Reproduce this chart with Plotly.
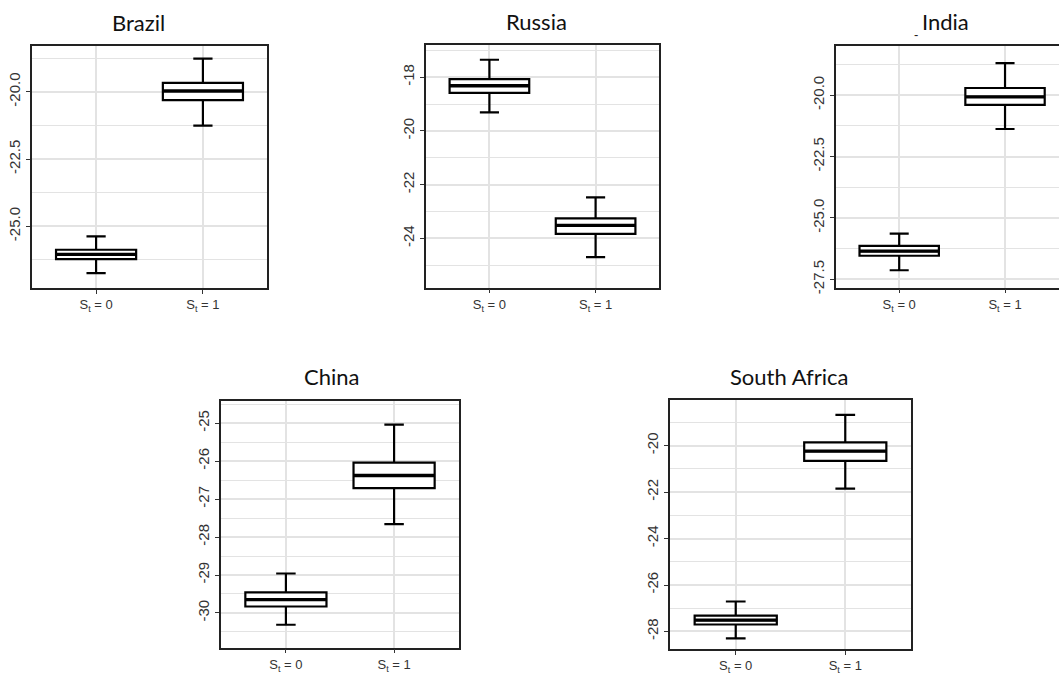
import plotly.graph_objects as go

# Panels and regime categories
countries = ["Brazil", "Russia", "India", "China", "South Africa"]
state_labels = ["S<sub>t</sub> = 0", "S<sub>t</sub> = 1"]
state_pos = [0, 1]

# Box statistics per country: [S_t = 0, S_t = 1]
lower_whisker = [[-26.74, -21.26], [-19.31, -24.69], [-27.13, -21.38], [-30.31, -27.66], [-28.30, -21.85]]
q1_values     = [[-26.22, -20.31], [-18.58, -23.83], [-26.54, -20.40], [-29.83, -26.71], [-27.70, -20.66]]
median_values = [[-26.04, -19.97], [-18.32, -23.51], [-26.35, -20.07], [-29.65, -26.38], [-27.51, -20.24]]
q3_values     = [[-25.87, -19.67], [-18.07, -23.25], [-26.14, -19.71], [-29.46, -26.04], [-27.32, -19.86]]
upper_whisker = [[-25.37, -18.77], [-17.35, -22.47], [-25.64, -18.70], [-28.96, -25.04], [-26.71, -18.68]]

# Y-axis tick values and labels per country
y_tickvals = [
    [-20.0, -22.5, -25.0],
    [-18, -20, -22, -24],
    [-20.0, -22.5, -25.0, -27.5],
    [-25, -26, -27, -28, -29, -30],
    [-20, -22, -24, -26, -28],
]
y_ticktext = [
    ["-20.0", "-22.5", "-25.0"],
    ["-18", "-20", "-22", "-24"],
    ["-20.0", "-22.5", "-25.0", "-27.5"],
    ["-25", "-26", "-27", "-28", "-29", "-30"],
    ["-20", "-22", "-24", "-26", "-28"],
]
y_minor = [
    [-18.75, -21.25, -23.75, -26.25],
    [-17, -19, -21, -23, -25],
    [-18.75, -21.25, -23.75, -26.25],
    [-24.5, -25.5, -26.5, -27.5, -28.5, -29.5, -30.5],
    [-19, -21, -23, -25, -27],
]

W, H = 1059, 675

# Panel geometry (pixels): x0, x1, y_top, y_bottom
panels = [
    (32, 267, 46, 291),
    (425.7, 659.3, 45.7, 290.7),
    (835.7, 1059, 46, 290.7),
    (221, 459, 405.7, 654.3),
    (670, 911, 404, 655.7),
]
y_ranges = [
    [-27.29, -18.28],
    [-25.83, -16.81],
    [-27.84, -17.98],
    [-30.91, -24.43],
    [-28.75, -18.03],
]
x_ranges = [[-0.6, 1.6], [-0.6, 1.6], [-0.6, 1.51], [-0.6, 1.6], [-0.6, 1.6]]
title_pos = [(138, 23), (536.7, 22), (945, 22), (331.7, 380), (789.3, 380)]

BOX_W = 0.75
GRID = "#e3e3e3"
FRAME = "#222222"
TICKFONT = dict(family="Liberation Sans, Arial, sans-serif", size=15, color="#333333")

fig = go.Figure()
layout = dict(
    width=W, height=H,
    margin=dict(l=0, r=0, t=0, b=0),
    paper_bgcolor="white", plot_bgcolor="white",
    showlegend=False,
    annotations=[],
)

for i, name in enumerate(countries):
    n = i + 1
    xa = "x" if n == 1 else f"x{n}"
    ya = "y" if n == 1 else f"y{n}"
    x0, x1, yt, yb = panels[i]

    fig.add_trace(go.Box(
        x=state_pos,
        q1=q1_values[i], median=median_values[i], q3=q3_values[i],
        lowerfence=lower_whisker[i], upperfence=upper_whisker[i],
        width=BOX_W, whiskerwidth=0.24,
        fillcolor="white",
        line=dict(color="black", width=2.2),
        boxpoints=False, hoverinfo="skip",
        xaxis=xa, yaxis=ya,
    ))
    # thicker median bars
    mx, my = [], []
    for p, m in zip(state_pos, median_values[i]):
        mx += [p - BOX_W / 2, p + BOX_W / 2, None]
        my += [m, m, None]
    fig.add_trace(go.Scatter(
        x=mx, y=my, mode="lines",
        line=dict(color="black", width=3.4),
        hoverinfo="skip", xaxis=xa, yaxis=ya,
    ))

    india = name == "India"
    layout[f"xaxis{'' if n == 1 else n}"] = dict(
        domain=[x0 / W, min(x1 / W, 1.0)],
        anchor=ya,
        range=x_ranges[i],
        tickmode="array", tickvals=state_pos, ticktext=state_labels,
        tickfont=dict(family="Liberation Sans, Arial, sans-serif", size=13, color="#333333"),
        ticks="outside", ticklen=4, tickcolor="#333333", tickwidth=1.3,
        showgrid=True, gridcolor=GRID, gridwidth=1.5,
        showline=True, linecolor=FRAME, linewidth=1.6, mirror=True,
        zeroline=False, fixedrange=True,
    )
    layout[f"yaxis{'' if n == 1 else n}"] = dict(
        domain=[1 - yb / H, 1 - yt / H],
        anchor=xa,
        range=y_ranges[i],
        tickmode="array", tickvals=y_tickvals[i], ticktext=y_ticktext[i],
        tickangle=-90,
        tickfont=TICKFONT,
        ticks="outside", ticklen=4, tickcolor="#333333", tickwidth=1.3,
        showgrid=True, gridcolor=GRID, gridwidth=1.5,
        minor=dict(tickvals=y_minor[i], showgrid=True, gridcolor=GRID, gridwidth=1.2, ticklen=0),
        showline=True, linecolor=FRAME, linewidth=1.6, mirror=(not india),
        zeroline=False, fixedrange=True,
    )

    tx, ty = title_pos[i]
    layout["annotations"].append(dict(
        text=name, xref="paper", yref="paper",
        x=tx / W, y=1 - ty / H, xanchor="center", yanchor="middle",
        showarrow=False,
        font=dict(family="Lato, Open Sans, sans-serif", size=22, color="#111111"),
    ))

# small mark beside the India heading
layout["annotations"].append(dict(
    text="-", xref="paper", yref="paper",
    x=916 / W, y=1 - 35 / H, xanchor="center", yanchor="middle",
    showarrow=False, font=dict(family="Liberation Sans, Arial", size=13, color="#222222"),
))

fig.update_layout(**layout)
fig.write_html("out.html")
